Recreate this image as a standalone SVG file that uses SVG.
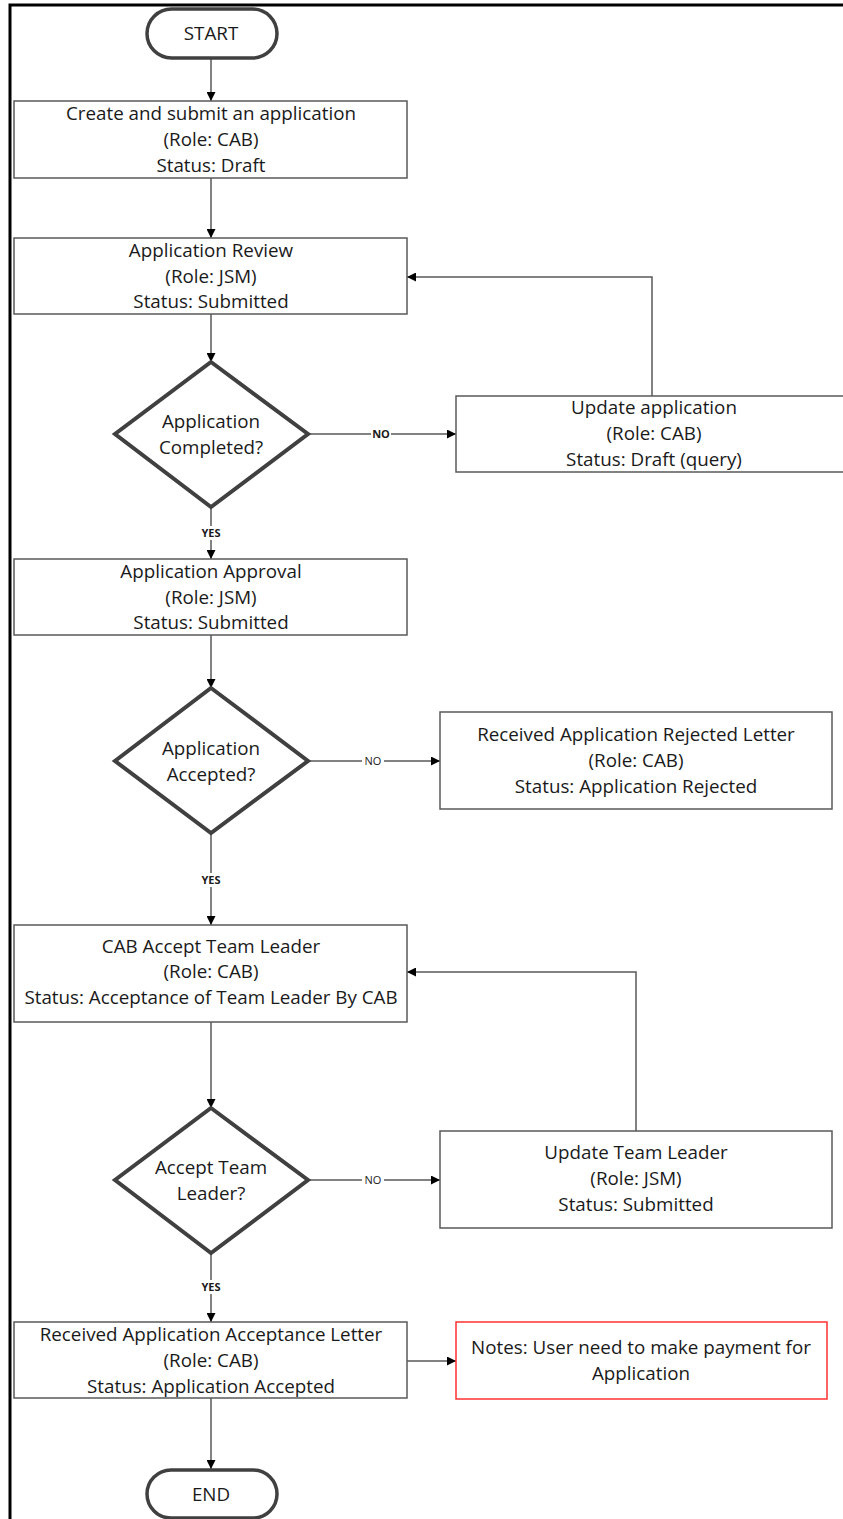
<svg xmlns="http://www.w3.org/2000/svg" width="843" height="1519" viewBox="0 0 843 1519">
<style>
  .t { font-family: "Open Sans", "Liberation Sans", Arial, sans-serif; font-size: 18.8px; fill: #1a1a1a; text-anchor: middle; }
  .box { fill: #ffffff; stroke: #595959; stroke-width: 1.5; }
  .note { fill: #ffffff; stroke: #ff3030; stroke-width: 1.5; }
  .term { fill: #ffffff; stroke: #404040; stroke-width: 3.5; }
  .dia { fill: #ffffff; stroke: #404040; stroke-width: 4; stroke-linejoin: miter; }
  .con { fill: none; stroke: #595959; stroke-width: 1.5; }
  .lb { font-family: "Open Sans", "Liberation Sans", Arial, sans-serif; font-size: 11px; fill: #1a1a1a; text-anchor: middle; }
  .lbb { font-family: "Open Sans", "Liberation Sans", Arial, sans-serif; font-size: 11px; font-weight: bold; fill: #1a1a1a; text-anchor: middle; }
</style>
<defs>
  <marker id="arr" viewBox="0 0 10 10" refX="10" refY="5" markerWidth="9" markerHeight="9" markerUnits="userSpaceOnUse" orient="auto">
    <path d="M0,0 L10,5 L0,10 Z" fill="#000"/>
  </marker>
</defs>
<rect width="843" height="1519" fill="#ffffff"/>
<path d="M10,1519 L10,5 L843,5" fill="none" stroke="#000" stroke-width="3"/>

<g id="connectors">
  <line class="con" x1="211" y1="58" x2="211" y2="101" marker-end="url(#arr)"/>
  <line class="con" x1="211" y1="178" x2="211" y2="238" marker-end="url(#arr)"/>
  <line class="con" x1="211" y1="314" x2="211" y2="362" marker-end="url(#arr)"/>
  <line class="con" x1="308" y1="434" x2="456" y2="434" marker-end="url(#arr)"/>
  <polyline class="con" points="652,396 652,277 407,277" marker-end="url(#arr)"/>
  <line class="con" x1="211" y1="507" x2="211" y2="559" marker-end="url(#arr)"/>
  <line class="con" x1="211" y1="635" x2="211" y2="688" marker-end="url(#arr)"/>
  <line class="con" x1="308" y1="761" x2="440" y2="761" marker-end="url(#arr)"/>
  <line class="con" x1="211" y1="833" x2="211" y2="925" marker-end="url(#arr)"/>
  <line class="con" x1="211" y1="1022" x2="211" y2="1108" marker-end="url(#arr)"/>
  <line class="con" x1="308" y1="1180" x2="440" y2="1180" marker-end="url(#arr)"/>
  <polyline class="con" points="636,1131 636,972 407,972" marker-end="url(#arr)"/>
  <line class="con" x1="211" y1="1253" x2="211" y2="1322" marker-end="url(#arr)"/>
  <line class="con" x1="407" y1="1361" x2="456" y2="1361" marker-end="url(#arr)"/>
  <line class="con" x1="211" y1="1398" x2="211" y2="1469" marker-end="url(#arr)"/>
  <rect x="371" y="427" width="20" height="14" fill="#fff"/>
  <text class="lbb" x="381" y="438">NO</text>
  <rect x="362" y="754" width="22" height="14" fill="#fff"/>
  <text class="lb" x="373" y="765">NO</text>
  <rect x="362" y="1173" width="22" height="14" fill="#fff"/>
  <text class="lb" x="373" y="1184">NO</text>
  <rect x="198" y="526" width="26" height="14" fill="#fff"/>
  <text class="lbb" x="211" y="537">YES</text>
  <rect x="198" y="873" width="26" height="14" fill="#fff"/>
  <text class="lbb" x="211" y="884">YES</text>
  <rect x="198" y="1280" width="26" height="14" fill="#fff"/>
  <text class="lbb" x="211" y="1291">YES</text>
</g>

<g id="start">
  <rect class="term" x="147" y="9" width="130" height="49" rx="24.5"/>
  <text class="t" x="211" y="40">START</text>
</g>

<g id="create">
  <rect class="box" x="14" y="101" width="393" height="77"/>
  <text class="t" x="211" y="120">Create and submit an application</text>
  <text class="t" x="211" y="146">(Role: CAB)</text>
  <text class="t" x="211" y="172">Status: Draft</text>
</g>

<g id="review">
  <rect class="box" x="14" y="238" width="393" height="76"/>
  <text class="t" x="211" y="257">Application Review</text>
  <text class="t" x="211" y="283">(Role: JSM)</text>
  <text class="t" x="211" y="308">Status: Submitted</text>
</g>

<g id="completed">
  <polygon class="dia" points="211,362 308,434 211,507 115,434"/>
  <text class="t" x="211" y="428">Application</text>
  <text class="t" x="211" y="454">Completed?</text>
</g>

<g id="update-app">
  <rect class="box" x="456" y="396" width="400" height="76"/>
  <text class="t" x="654" y="414">Update application</text>
  <text class="t" x="654" y="440">(Role: CAB)</text>
  <text class="t" x="654" y="466">Status: Draft (query)</text>
</g>

<g id="approval">
  <rect class="box" x="14" y="559" width="393" height="76"/>
  <text class="t" x="211" y="578">Application Approval</text>
  <text class="t" x="211" y="604">(Role: JSM)</text>
  <text class="t" x="211" y="629">Status: Submitted</text>
</g>

<g id="accepted">
  <polygon class="dia" points="211,688 308,761 211,833 115,761"/>
  <text class="t" x="211" y="755">Application</text>
  <text class="t" x="211" y="781">Accepted?</text>
</g>

<g id="rejected">
  <rect class="box" x="440" y="712" width="392" height="97"/>
  <text class="t" x="636" y="741">Received Application Rejected Letter</text>
  <text class="t" x="636" y="767">(Role: CAB)</text>
  <text class="t" x="636" y="793">Status: Application Rejected</text>
</g>

<g id="cab-accept">
  <rect class="box" x="14" y="925" width="393" height="97"/>
  <text class="t" x="211" y="953">CAB Accept Team Leader</text>
  <text class="t" x="211" y="978">(Role: CAB)</text>
  <text class="t" x="211" y="1004">Status: Acceptance of Team Leader By CAB</text>
</g>

<g id="accept-tl">
  <polygon class="dia" points="211,1108 308,1180 211,1253 115,1180"/>
  <text class="t" x="211" y="1174">Accept Team</text>
  <text class="t" x="211" y="1200">Leader?</text>
</g>

<g id="update-tl">
  <rect class="box" x="440" y="1131" width="392" height="97"/>
  <text class="t" x="636" y="1159">Update Team Leader</text>
  <text class="t" x="636" y="1185">(Role: JSM)</text>
  <text class="t" x="636" y="1211">Status: Submitted</text>
</g>

<g id="acceptance-letter">
  <rect class="box" x="14" y="1322" width="393" height="76"/>
  <text class="t" x="211" y="1341">Received Application Acceptance Letter</text>
  <text class="t" x="211" y="1367">(Role: CAB)</text>
  <text class="t" x="211" y="1393">Status: Application Accepted</text>
</g>

<g id="notes">
  <rect class="note" x="456" y="1322" width="371" height="77"/>
  <text class="t" x="641" y="1354">Notes: User need to make payment for</text>
  <text class="t" x="641" y="1380">Application</text>
</g>

<g id="end">
  <rect class="term" x="147" y="1470" width="130" height="48" rx="24"/>
  <text class="t" x="211" y="1501">END</text>
</g>
</svg>
